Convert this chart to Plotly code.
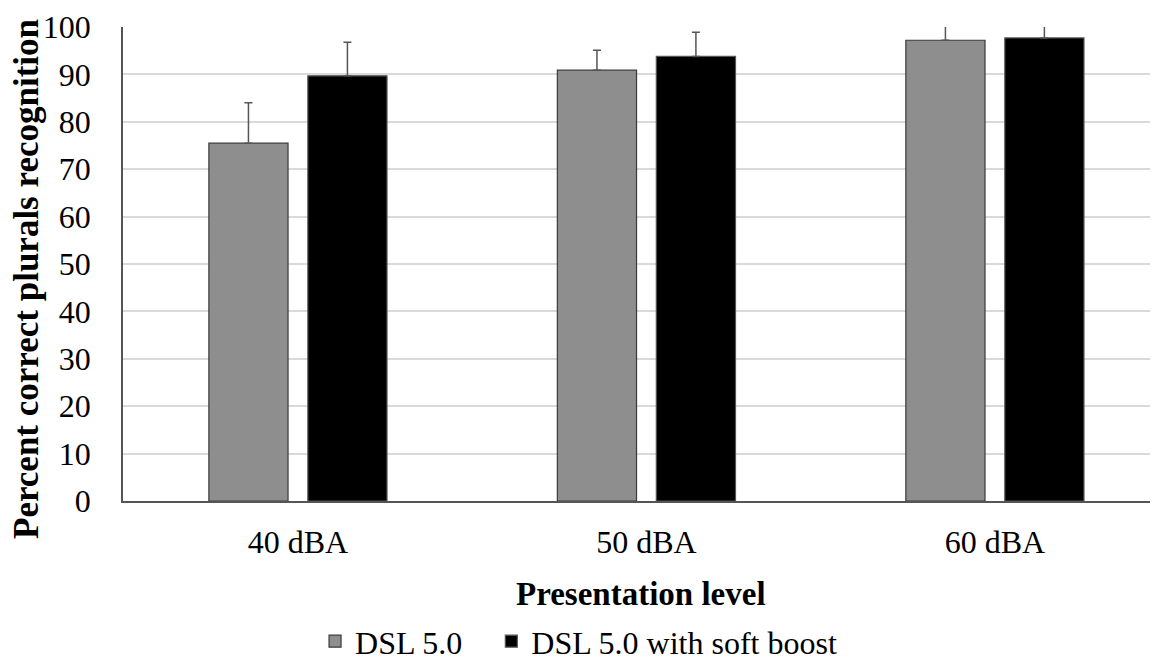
import plotly.graph_objects as go

categories = ["40 dBA", "50 dBA", "60 dBA"]
dsl_values = [75.5, 90.9, 97.2]
dsl_errors = [8.5, 4.2, 4.0]
boost_values = [89.7, 93.8, 97.7]
boost_errors = [7.1, 5.1, 4.0]
y_ticks = [0, 10, 20, 30, 40, 50, 60, 70, 80, 90, 100]
series_names = ["DSL 5.0", "DSL 5.0 with soft boost"]

font = "Liberation Serif"
NBSP = "\u00a0"

fig = go.Figure()
fig.add_trace(go.Bar(
    x=categories, y=dsl_values, name=series_names[0] + NBSP * 3,
    marker=dict(color="#8e8e8e", line=dict(color="#3a3a3a", width=1.2)),
    error_y=dict(type="data", array=dsl_errors, symmetric=False, arrayminus=[0, 0, 0],
                 color="#555555", thickness=1.5, width=4),
))
fig.add_trace(go.Bar(
    x=categories, y=boost_values, name=series_names[1],
    marker=dict(color="#000000", line=dict(color="#555555", width=1.2)),
    error_y=dict(type="data", array=boost_errors, symmetric=False, arrayminus=[0, 0, 0],
                 color="#555555", thickness=1.5, width=4),
))

# page body has an 8px margin; figure is sized to fill the rest of the window
fig.update_layout(
    width=1150, height=653,
    margin=dict(l=115, r=0, t=19, b=160, autoexpand=False),
    paper_bgcolor="white", plot_bgcolor="white",
    barmode="group", bargap=0.432, bargroupgap=0.2,
    font=dict(family=font, size=32, color="black"),
    showlegend=True,
    legend=dict(orientation="h", xref="container", yref="container",
                x=0.267, xanchor="left", y=0.03, yanchor="middle",
                font=dict(family=font, size=32), itemwidth=30, tracegroupgap=0,
                bgcolor="rgba(0,0,0,0)"),
    annotations=[
        dict(text="<b>Percent correct plurals recognition</b>", xref="paper", yref="paper",
             x=0, y=0.5, xshift=-97, yshift=-15, textangle=-90, showarrow=False,
             xanchor="center", yanchor="middle", font=dict(family=font, size=35)),
        dict(text="<b>Presentation level</b>", xref="paper", yref="paper",
             x=0.5, y=0, yshift=-93, showarrow=False,
             xanchor="center", yanchor="middle", font=dict(family=font, size=33)),
    ],
)
fig.update_yaxes(
    range=[0, 100], tickvals=y_ticks, showgrid=True, gridcolor="#d9d9d9", gridwidth=1.8,
    showline=True, linecolor="#555555", linewidth=1.5, ticks="",
    ticklabelstandoff=24, automargin=False,
    tickfont=dict(family=font, size=32),
    zeroline=False,
)
fig.update_xaxes(
    range=[-0.502, 2.468],
    showline=True, linecolor="#555555", linewidth=1.5, ticks="",
    ticklabelstandoff=12, automargin=False,
    tickfont=dict(family=font, size=32),
)

fig.write_html("out.html")
